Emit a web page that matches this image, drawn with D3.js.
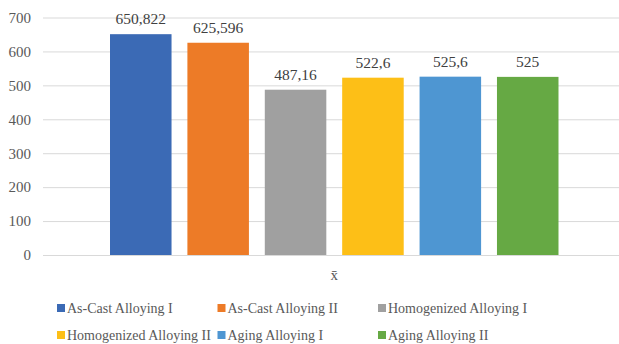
<!DOCTYPE html>
<html>
<head>
<meta charset="utf-8">
<script src="https://cdn.jsdelivr.net/npm/d3@7"></script>
<style>
  html, body { margin: 0; padding: 0; background: #fff; }
  svg { display: block; }
</style>
</head>
<body>
<svg id="chart" width="619" height="344"></svg>
<script>
// Single category, six series
const categories = ["x̄"];
const seriesNames = [
  "As-Cast Alloying I", "As-Cast Alloying II", "Homogenized Alloying I",
  "Homogenized Alloying II", "Aging Alloying I", "Aging Alloying II"
];
const seriesValues = [650.822, 625.596, 487.16, 522.6, 525.6, 525];
const valueLabels = ["650,822", "625,596", "487,16", "522,6", "525,6", "525"];
const seriesColors = ["#3b6ab5", "#ed7b27", "#a0a0a0", "#fdbf17", "#4e96d2", "#66a944"];
const yTicks = [0, 100, 200, 300, 400, 500, 600, 700];

const FONT = '"Liberation Serif"';
const svg = d3.select("#chart");
const plot = { left: 43, right: 625.5, top: 17.5, bottom: 255 };

const y = d3.scaleLinear().domain([0, 700]).range([plot.bottom, plot.top]);
const x0 = d3.scaleBand().domain(categories).range([plot.left, plot.right])
  .paddingInner(0).paddingOuter(0.1494);
const x1 = d3.scaleBand().domain(seriesNames).range([0, x0.bandwidth()])
  .paddingInner(0.205).paddingOuter(0);

// Gridlines + tick labels
const yAxis = d3.axisLeft(y).tickValues(yTicks).tickSize(-(plot.right - plot.left)).tickPadding(12);
const gy = svg.append("g").attr("transform", `translate(${plot.left},0)`).call(yAxis)
  .attr("font-family", FONT).attr("font-size", 15);
gy.select(".domain").remove();
gy.selectAll(".tick line").attr("stroke", "#d9d9d9").attr("stroke-width", 1);
gy.selectAll(".tick text").attr("fill", "#595959");

// Bars
const group = svg.append("g").attr("transform", `translate(${x0(categories[0])},0)`);
const data = seriesNames.map((name, i) => ({ name, value: seriesValues[i], label: valueLabels[i], color: seriesColors[i] }));

group.selectAll("rect.bar").data(data).join("rect")
  .attr("class", "bar")
  .attr("x", d => x1(d.name))
  .attr("y", d => y(d.value))
  .attr("width", x1.bandwidth())
  .attr("height", d => y(0) - y(d.value))
  .attr("fill", d => d.color);

// Value labels
group.selectAll("text.val").data(data).join("text")
  .attr("class", "val")
  .attr("x", d => x1(d.name) + x1.bandwidth() / 2)
  .attr("y", d => y(d.value) - 10)
  .attr("text-anchor", "middle")
  .attr("fill", "#404040")
  .attr("font-family", FONT)
  .attr("font-size", 15.5)
  .text(d => d.label);

// Category label
svg.append("text")
  .attr("x", x0(categories[0]) + x0.bandwidth() / 2)
  .attr("y", 280)
  .attr("text-anchor", "middle")
  .attr("fill", "#595959")
  .attr("font-family", FONT)
  .attr("font-size", 15)
  .text(categories[0]);

// Legend: three columns, two rows
const legend = svg.append("g");
const colX = [57, 217.5, 378];
const rowY = [308, 335];
const items = legend.selectAll("g.item").data(data).join("g")
  .attr("class", "item")
  .attr("transform", (d, i) => `translate(${colX[i % 3]},${rowY[Math.floor(i / 3)]})`);
items.append("rect")
  .attr("x", 0).attr("y", -4)
  .attr("width", 8).attr("height", 8)
  .attr("fill", d => d.color);
items.append("text")
  .attr("x", 10).attr("y", 0)
  .attr("dy", "0.35em")
  .attr("fill", "#595959")
  .attr("font-family", FONT)
  .attr("font-size", 14)
  .text(d => d.name);
</script>
</body>
</html>
